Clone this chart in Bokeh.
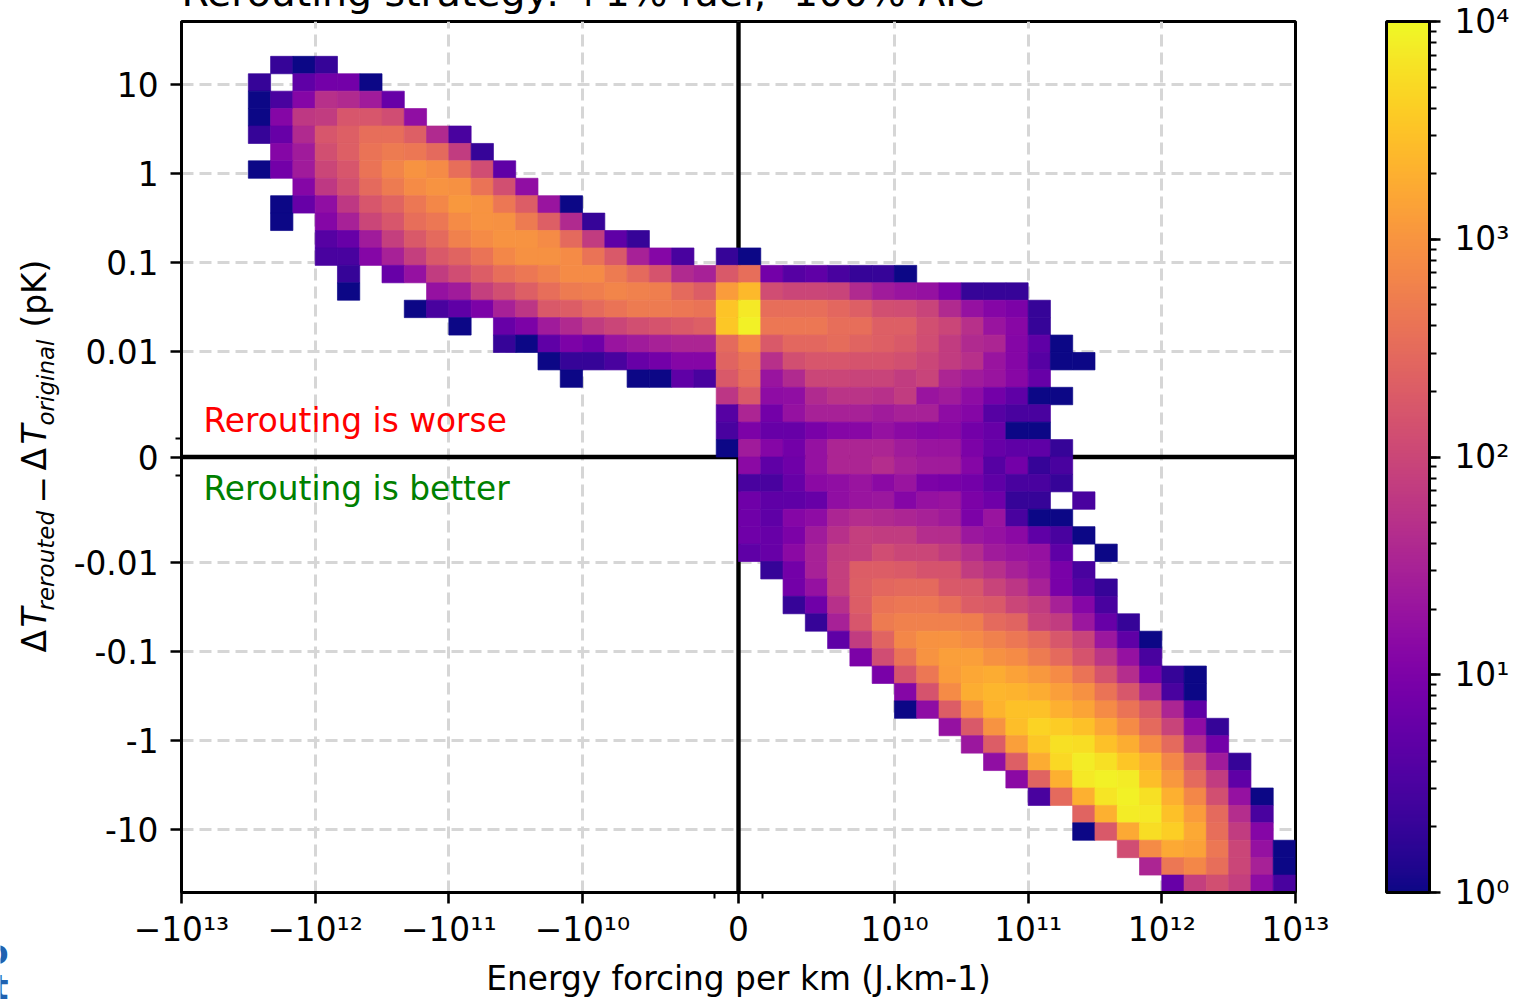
from bokeh.plotting import figure
from bokeh.layouts import row, column
from bokeh.models import (ColumnDataSource, LogColorMapper, ColorBar, LogTicker, FixedTicker, Label)
from bokeh.core.properties import value
from bokeh.palettes import Plasma256
from bokeh.embed import file_html
from bokeh.resources import INLINE
import numpy as np

# ---- data: histogram counts per row (top to bottom), each row with its first column
row_02 = [2, 1, 2]
row_03 = [2, 0, 5, 8, 8, 1]
row_04 = [1, 3, 12, 50, 40, 25, 6]
row_05 = [1, 12, 63, 70, 160, 160, 120, 16]
row_06 = [2, 6, 40, 160, 220, 350, 350, 220, 40, 3]
row_07 = [12, 25, 130, 220, 400, 500, 450, 300, 70, 2]
row_08 = [1, 8, 25, 100, 160, 400, 650, 1000, 800, 350, 120, 5]
row_09 = [12, 63, 130, 300, 500, 800, 1000, 900, 400, 130, 16]
row_10 = [1, 6, 16, 63, 160, 250, 450, 700, 1100, 1000, 450, 200, 20, 1]
row_11 = [1, 0, 12, 30, 100, 160, 350, 450, 800, 1000, 900, 500, 220, 40, 2]
row_12 = [4, 6, 25, 80, 180, 300, 600, 800, 1000, 1000, 800, 300, 70, 5, 2]
row_13 = [3, 3, 12, 30, 80, 180, 250, 400, 700, 900, 900, 800, 400, 180, 30, 12, 3, 0, 2, 1]
row_14 = [2, 0, 6, 18, 70, 120, 200, 350, 450, 600, 800, 800, 500, 300, 150, 40, 30, 180, 350, 8, 4, 5, 3, 2, 2, 1]
row_15 = [1, 0, 0, 0, 18, 25, 80, 130, 220, 350, 500, 550, 650, 600, 550, 300, 200, 1200, 2500, 120, 100, 100, 90, 40, 25, 20, 18, 10, 2, 2, 2]
row_16 = [1, 3, 5, 10, 30, 60, 180, 200, 300, 400, 500, 500, 450, 400, 3200, 7000, 350, 350, 350, 280, 220, 130, 120, 90, 40, 18, 12, 10, 2]
row_17 = [1, 0, 6, 10, 25, 40, 70, 100, 130, 150, 180, 220, 3500, 8500, 450, 450, 450, 350, 350, 220, 220, 130, 100, 50, 20, 13, 2]
row_18 = [2, 1, 5, 10, 7, 20, 25, 30, 35, 35, 300, 700, 180, 280, 280, 320, 250, 220, 180, 120, 70, 40, 35, 12, 5, 1]
row_19 = [1, 2, 2, 3, 6, 8, 12, 12, 250, 400, 50, 130, 160, 160, 150, 150, 130, 100, 70, 50, 20, 12, 4, 1, 1]
row_20 = [1, 0, 0, 1, 1, 5, 3, 180, 350, 20, 40, 100, 100, 90, 90, 70, 90, 35, 25, 20, 13, 6]
row_21 = [60, 180, 15, 16, 40, 55, 55, 50, 70, 20, 25, 15, 8, 5, 1, 1]
row_22 = [4, 35, 8, 18, 30, 30, 30, 25, 30, 30, 15, 12, 4, 3, 3]
row_23 = [3, 10, 6, 6, 9, 12, 13, 18, 14, 12, 13, 8, 6, 1, 1]
row_24 = [1, 25, 12, 8, 18, 35, 35, 35, 25, 20, 20, 10, 6, 5, 5, 2]
row_25 = [14, 5, 7, 18, 35, 35, 45, 30, 25, 25, 12, 4, 8, 2, 3]
row_26 = [3, 3, 6, 14, 16, 20, 14, 20, 10, 9, 8, 5, 3, 3, 2]
row_27 = [7, 5, 5, 6, 16, 20, 22, 12, 18, 20, 10, 7, 2, 2, 0, 3]
row_28 = [7, 5, 12, 15, 35, 45, 40, 35, 30, 25, 10, 20, 3, 1, 1]
row_29 = [7, 6, 10, 25, 50, 80, 70, 70, 45, 45, 22, 18, 14, 5, 3, 1]
row_30 = [5, 6, 14, 30, 70, 80, 120, 100, 100, 70, 45, 25, 20, 18, 5, 0, 1]
row_31 = [2, 8, 30, 80, 200, 200, 190, 150, 150, 70, 50, 30, 20, 9, 3]
row_32 = [8, 18, 80, 220, 280, 300, 300, 180, 170, 90, 60, 30, 9, 4, 2]
row_33 = [2, 7, 50, 200, 400, 450, 450, 350, 200, 180, 100, 70, 30, 12, 3]
row_34 = [2, 30, 160, 500, 600, 600, 600, 550, 300, 250, 90, 70, 22, 6, 2]
row_35 = [5, 70, 250, 700, 950, 1000, 800, 600, 450, 300, 170, 90, 22, 5, 1]
row_36 = [10, 120, 400, 1000, 1300, 1300, 900, 800, 500, 300, 150, 60, 18, 3]
row_37 = [9, 150, 450, 1200, 1600, 1800, 1400, 1100, 800, 400, 150, 45, 8, 2, 1]
row_38 = [12, 150, 800, 1900, 2300, 2200, 1800, 1300, 900, 400, 170, 40, 3, 1]
row_39 = [1, 15, 200, 1000, 2200, 3000, 3000, 2000, 1500, 800, 400, 180, 35, 5]
row_40 = [18, 180, 1000, 2800, 4500, 3800, 3000, 1600, 800, 300, 90, 15, 2]
row_41 = [22, 200, 1300, 3500, 6000, 5500, 3000, 1900, 800, 300, 40, 8]
row_42 = [16, 220, 1800, 5000, 7500, 6000, 3300, 2000, 700, 170, 25, 2]
row_43 = [14, 250, 2000, 7000, 8500, 7500, 2800, 1100, 300, 70, 5]
row_44 = [3, 300, 2000, 6500, 8500, 6000, 2000, 700, 130, 18, 1]
row_45 = [250, 2000, 7500, 7000, 3000, 1200, 300, 45, 3]
row_46 = [1, 180, 1700, 5500, 4000, 1700, 350, 70, 12]
row_47 = [120, 800, 1700, 1400, 450, 100, 18, 1]
row_48 = [35, 450, 700, 350, 100, 30, 1]
row_49 = [6, 80, 130, 80, 15, 3]

first_col = {2: 4, 3: 3, 4: 3, 5: 3, 6: 3, 7: 4, 8: 3, 9: 5, 10: 4, 11: 4, 12: 6, 13: 6, 14: 7, 15: 7,
             16: 10, 17: 12, 18: 14, 19: 16, 20: 17, 21: 24, 22: 24, 23: 24, 24: 24, 25: 25, 26: 25,
             27: 25, 28: 25, 29: 25, 30: 25, 31: 26, 32: 27, 33: 27, 34: 28, 35: 29, 36: 30, 37: 31,
             38: 32, 39: 32, 40: 34, 41: 35, 42: 36, 43: 37, 44: 38, 45: 40, 46: 40, 47: 42, 48: 43, 49: 44}

x_tick_values = [-1e13, -1e12, -1e11, -1e10, 0, 1e10, 1e11, 1e12, 1e13]
x_tick_labels = ["−10¹³", "−10¹²", "−10¹¹", "−10¹⁰", "0", "10¹⁰", "10¹¹", "10¹²", "10¹³"]
y_tick_values = [10, 1, 0.1, 0.01, 0, -0.01, -0.1, -1, -10]
y_tick_labels = ["10", "1", "0.1", "0.01", "0", "-0.01", "-0.1", "-1", "-10"]
cbar_labels = {1: "10⁰", 10: "10¹", 100: "10²", 1000: "10³", 10000: "10⁴"}

title_text = "Rerouting strategy: +1% fuel, -100% AIC"
x_label = "Energy forcing per km (J.km-1)"

# ---- symlog axes: position measured in decades
X_THRESH, X_LIN = 1e10, 1.168
Y_THRESH, Y_LIN = 0.01, 1.191
X_HALF = X_LIN + 3
Y_HALF = 436 / 89


def sym(v, thresh, lin):
    if v == 0:
        return 0.0
    return float(np.sign(v) * (lin + np.log10(abs(v) / thresh)))


x_edges = np.linspace(-X_HALF, X_HALF, 51)
y_edges = np.linspace(Y_HALF, -Y_HALF, 51)

left, right, top, bottom, counts = [], [], [], [], []
for r, start in first_col.items():
    for i, c in enumerate(globals()[f"row_{r:02d}"]):
        if c > 0:
            k = start + i
            left.append(x_edges[k]); right.append(x_edges[k + 1])
            top.append(y_edges[r]); bottom.append(y_edges[r + 1])
            counts.append(c)
source = ColumnDataSource(dict(left=left, right=right, top=top, bottom=bottom, count=counts))

FONT = "DejaVu Sans"
FS = "32.8px"
SUB = "23px"
FRAME_L, FRAME_T, FRAME_R, FRAME_B = 181, 21, 1295, 892
SIDE_W = 62
TOP_SHIFT = 40  # canvas sits this far above the page so that the title is cut by the page edge

p = figure(width=1524 - SIDE_W, height=1003 + TOP_SHIFT, output_backend="svg", toolbar_location=None,
           x_range=(-X_HALF, X_HALF), y_range=(-Y_HALF, Y_HALF),
           frame_width=FRAME_R - FRAME_L, frame_height=FRAME_B - FRAME_T,
           min_border_left=FRAME_L - SIDE_W, min_border_right=1524 - FRAME_R,
           min_border_top=0, min_border_bottom=1003 - FRAME_B, margin=0)
p.background_fill_color = "white"
p.border_fill_color = "white"
p.outline_line_color = "black"
p.outline_line_width = 3
p.title.text = title_text
p.title.text_font = FONT
p.title.text_font_size = "39.4px"
p.title.text_font_style = "normal"
p.title.text_color = "black"
p.title.align = "left"
p.title.offset = 0
p.title.standoff = 13

x_ticks = [sym(v, X_THRESH, X_LIN) for v in x_tick_values]
y_ticks = [sym(v, Y_THRESH, Y_LIN) for v in y_tick_values]
x_minor = [-24 / 133.6, 24 / 133.6]
y_minor = [-19 / 89, 19 / 89]

p.xaxis.ticker = FixedTicker(ticks=x_ticks, minor_ticks=x_minor)
p.yaxis.ticker = FixedTicker(ticks=y_ticks, minor_ticks=y_minor)
p.xaxis.major_label_overrides = dict(zip(x_ticks, x_tick_labels))
p.yaxis.major_label_overrides = dict(zip(y_ticks, y_tick_labels))
p.xgrid.ticker = FixedTicker(ticks=x_ticks)
p.ygrid.ticker = FixedTicker(ticks=y_ticks)
for g in (p.xgrid, p.ygrid):
    g.grid_line_color = "#d6d6d6"
    g.grid_line_width = 3
    g.grid_line_dash = "12 6"

for ax in (p.xaxis, p.yaxis):
    ax.major_label_text_font = FONT
    ax.major_label_text_font_size = FS
    ax.major_label_text_color = "black"
    ax.axis_line_color = "black"
    ax.axis_line_width = 3
    ax.major_tick_line_color = "black"
    ax.major_tick_line_width = 2.6
    ax.major_tick_in = 0
    ax.major_tick_out = 11
    ax.minor_tick_line_color = "black"
    ax.minor_tick_line_width = 2
    ax.minor_tick_in = 0
    ax.minor_tick_out = 6
p.xaxis.major_label_standoff = 7
p.yaxis.major_label_standoff = 12
p.xaxis.axis_label = x_label
p.xaxis.axis_label_text_font = FONT
p.xaxis.axis_label_text_font_size = FS
p.xaxis.axis_label_text_font_style = "normal"
p.xaxis.axis_label_text_color = "black"
p.xaxis.axis_label_standoff = 8

# cross lines at zero sit under the histogram
p.line([-X_HALF, X_HALF], [0, 0], line_color="black", line_width=4.4)
p.line([0, 0], [-Y_HALF, Y_HALF], line_color="black", line_width=4.4)

mapper = LogColorMapper(palette=Plasma256, low=1, high=10000)
p.quad(left="left", right="right", top="top", bottom="bottom", source=source,
       fill_color={"field": "count", "transform": mapper},
       line_color={"field": "count", "transform": mapper}, line_width=0.7)

cb = ColorBar(color_mapper=mapper, ticker=LogTicker(num_minor_ticks=10),
              major_label_overrides=cbar_labels, width=43, height=FRAME_B - FRAME_T,
              location=(1386 - FRAME_L, 0), padding=0, margin=0,
              bar_line_color="black", bar_line_width=3,
              major_tick_line_color="black", major_tick_line_width=2.6, major_tick_in=0, major_tick_out=11,
              minor_tick_line_color="black", minor_tick_line_width=2, minor_tick_in=0, minor_tick_out=7,
              major_label_text_font=FONT, major_label_text_font_size=FS, major_label_text_color="black",
              label_standoff=14)
p.add_layout(cb, "center")

# annotations inside the frame (their baseline anchor sits about 12px above the glyph baseline)
for text, py, color in (("Rerouting is worse", 420, "red"), ("Rerouting is better", 488, "green")):
    p.add_layout(Label(x=203 - FRAME_L, y=FRAME_B - py, x_units="screen", y_units="screen", text=text,
                       text_font=FONT, text_font_size=FS, text_color=color,
                       text_align="left", text_baseline="alphabetic"))

# narrow figure on the left, in page pixels: y axis title assembled from its pieces, reading upward
side = figure(width=SIDE_W, height=1003 + TOP_SHIFT, output_backend="svg", toolbar_location=None,
              frame_width=SIDE_W, frame_height=1003 + TOP_SHIFT,
              x_range=(0, SIDE_W), y_range=(1003, -TOP_SHIFT), x_axis_type=None, y_axis_type=None,
              min_border=0, margin=0, outline_line_color=None)
side.grid.visible = False


def piece(text, px, py, size=FS, style="normal", angle=np.pi / 2, color="black", align="left"):
    side.text([px], [py], text=[text], angle=angle, text_font=value(FONT), text_font_size=value(size),
              text_font_style=style, text_color=color, text_align=align, text_baseline="bottom")


# a "bottom" anchor lies about 0.19 em below the glyph baseline
piece("Δ", 53, 652)
piece("T", 53, 627, style="italic")
piece("rerouted", 58, 610, size=SUB, style="italic")
piece("−", 53, 503)
piece("Δ", 53, 470)
piece("T", 53, 444, style="italic")
piece("original", 58, 425, size=SUB, style="italic")
piece("(pK)", 53, 327)
# the clipped ends of a logo at the lower left corner
piece("o", 8, 971, size="34px", style="bold", angle=0, color="#1f62b0", align="right")
piece("t", 8, 1006, size="34px", style="bold", angle=0, color="#1f62b0", align="right")

layout = row(column(side, margin=0, spacing=0), p, margin=(-TOP_SHIFT, 0, 0, 0), spacing=0)
open("out.html", "w").write(file_html(layout, INLINE))
